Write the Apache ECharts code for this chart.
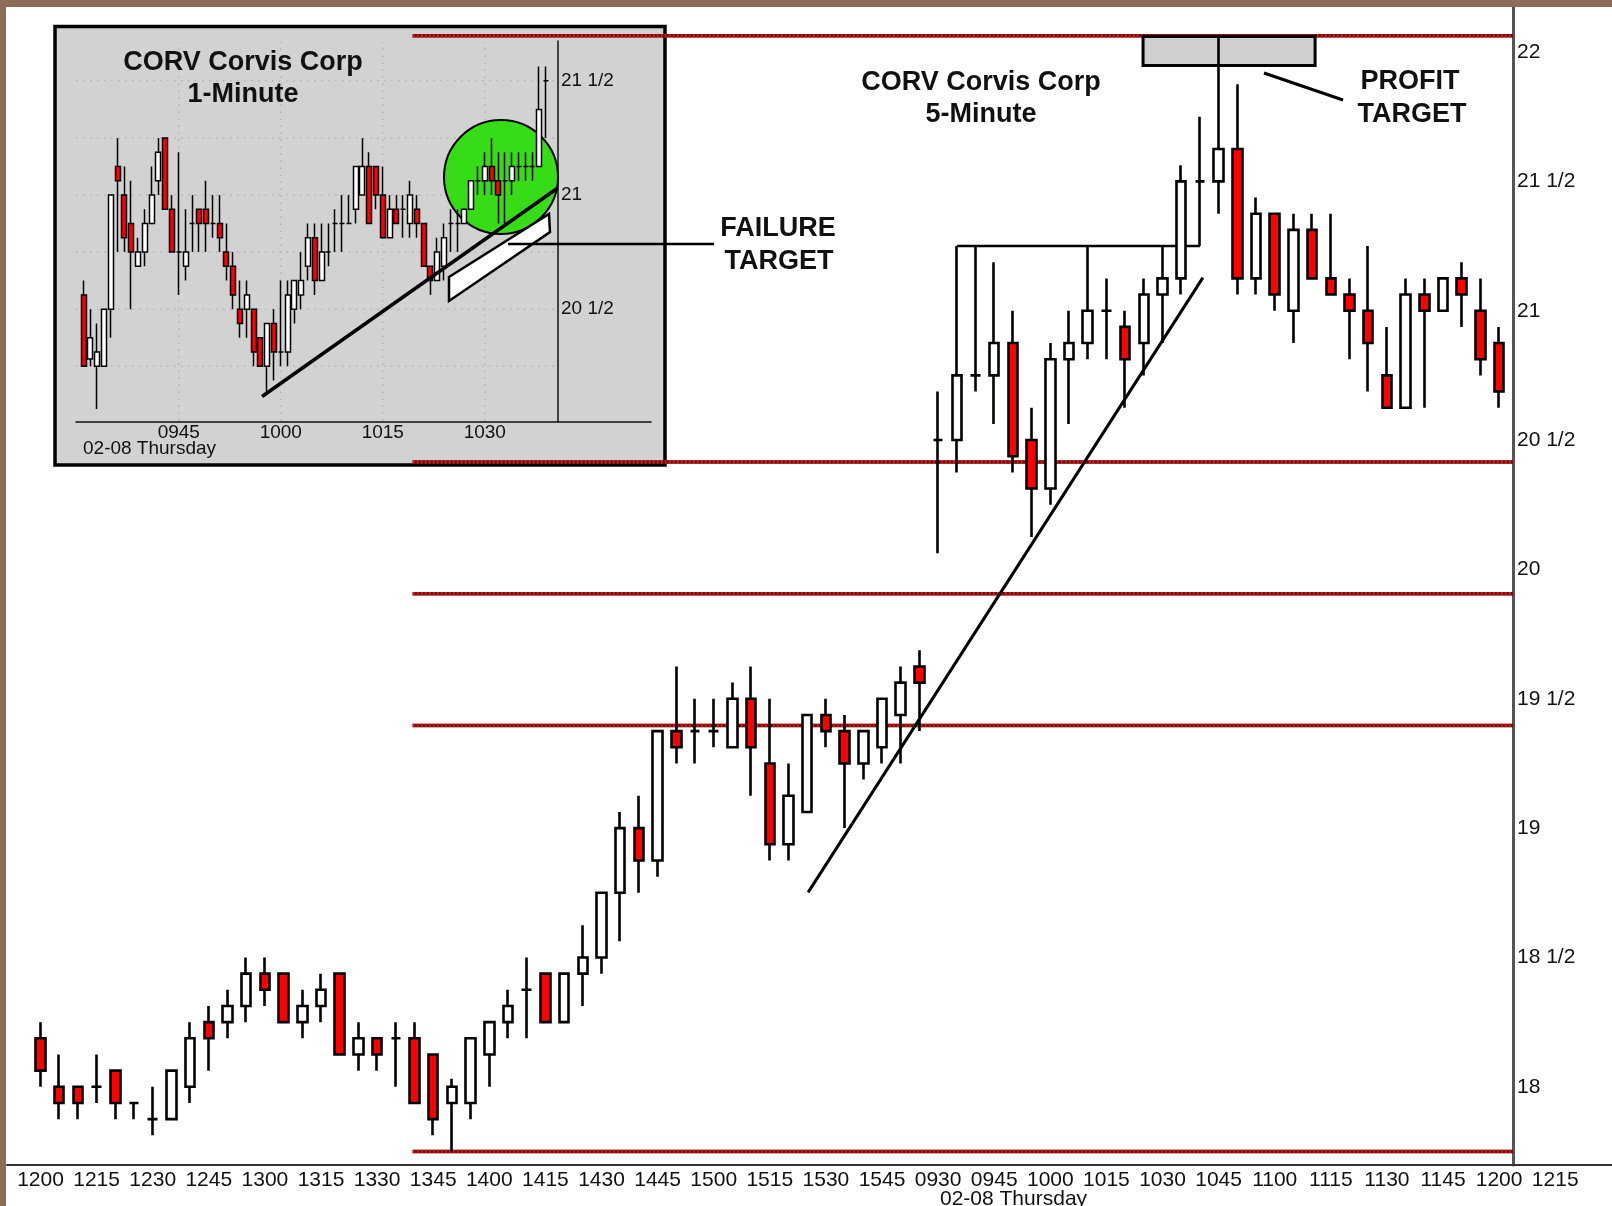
<!DOCTYPE html>
<html>
<head>
<meta charset="utf-8">
<title>CORV Corvis Corp</title>
<script src="https://cdn.jsdelivr.net/npm/echarts@6.0.0/dist/echarts.min.js"></script>
<style>
  html, body { margin: 0; padding: 0; background: #fff; }
  #chart { width: 1612px; height: 1206px; }
</style>
</head>
<body>
<div id="chart"></div>
<script>
// 5-minute bars, prices in sixteenths
const open5 = [18.1875, 18.0, 18.0, 18.0, 18.0625, 17.9375, 17.875, 17.875, 18.0, 18.25,
  18.25, 18.3125, 18.4375, 18.4375, 18.25, 18.3125, 18.4375, 18.125, 18.1875, 18.1875,
  18.1875, 18.125, 17.9375, 17.9375, 18.125, 18.25, 18.375, 18.4375, 18.25, 18.4375,
  18.5, 18.75, 19.0, 18.875, 19.375, 19.375, 19.375, 19.3125, 19.5, 19.25,
  18.9375, 19.0625, 19.4375, 19.375, 19.25, 19.3125, 19.4375, 19.625, 20.5, 20.5,
  20.75, 20.75, 20.875, 20.5, 20.3125, 20.8125, 20.875, 21.0, 20.9375, 20.875,
  21.0625, 21.125, 21.5, 21.5, 21.625, 21.125, 21.375, 21.0, 21.3125, 21.125,
  21.0625, 21.0, 20.75, 20.625, 21.0625, 21.0, 21.125, 21.0, 20.875]
const high5 = [18.25, 18.125, 18.0, 18.125, 18.0625, 17.9375, 18.0, 18.0625, 18.25, 18.3125,
  18.375, 18.5, 18.5, 18.4375, 18.375, 18.4375, 18.4375, 18.25, 18.1875, 18.25,
  18.25, 18.125, 18.03125, 18.1875, 18.25, 18.375, 18.5, 18.4375, 18.4375, 18.625,
  18.75, 19.0625, 19.125, 19.375, 19.625, 19.5, 19.5, 19.5625, 19.625, 19.5,
  19.25, 19.4375, 19.5, 19.4375, 19.375, 19.5, 19.625, 19.6875, 20.6875, 21.25,
  21.25, 21.1875, 21.0, 20.625, 20.875, 21.0, 21.25, 21.125, 21.0, 21.125,
  21.25, 21.5625, 21.75, 22.0625, 21.875, 21.4375, 21.375, 21.375, 21.375, 21.375,
  21.125, 21.25, 20.9375, 21.125, 21.125, 21.125, 21.1875, 21.125, 20.9375]
const low5 = [18.0, 17.875, 17.875, 17.9375, 17.875, 17.875, 17.8125, 17.875, 17.9375, 18.0625,
  18.1875, 18.25, 18.3125, 18.25, 18.1875, 18.25, 18.125, 18.0625, 18.0625, 18.0,
  17.9375, 17.8125, 17.75, 17.875, 18.0, 18.1875, 18.1875, 18.25, 18.25, 18.3125,
  18.4375, 18.5625, 18.75, 18.8125, 19.25, 19.25, 19.3125, 19.3125, 19.125, 18.875,
  18.875, 19.0625, 19.3125, 19.0, 19.1875, 19.25, 19.25, 19.375, 20.0625, 20.375,
  20.6875, 20.5625, 20.375, 20.125, 20.25, 20.5625, 20.8125, 20.8125, 20.625, 20.75,
  20.875, 21.0625, 21.25, 21.375, 21.0625, 21.0625, 21.0, 20.875, 21.125, 21.0625,
  20.8125, 20.6875, 20.625, 20.625, 20.625, 21.0, 20.9375, 20.75, 20.625]
const close5 = [18.0625, 17.9375, 17.9375, 18.0, 17.9375, 17.9375, 17.875, 18.0625, 18.1875, 18.1875,
  18.3125, 18.4375, 18.375, 18.25, 18.3125, 18.375, 18.125, 18.1875, 18.125, 18.1875,
  17.9375, 17.875, 18.0, 18.1875, 18.25, 18.3125, 18.375, 18.25, 18.4375, 18.5,
  18.75, 19.0, 18.875, 19.375, 19.3125, 19.375, 19.375, 19.5, 19.3125, 18.9375,
  19.125, 19.4375, 19.375, 19.25, 19.375, 19.5, 19.5625, 19.5625, 20.5, 20.75,
  20.75, 20.875, 20.4375, 20.3125, 20.8125, 20.875, 21.0, 21.0, 20.8125, 21.0625,
  21.125, 21.5, 21.5, 21.625, 21.125, 21.375, 21.0625, 21.3125, 21.125, 21.0625,
  21.0, 20.875, 20.625, 21.0625, 21.0, 21.125, 21.0625, 20.8125, 20.6875]
// one label every third bar
const timeLabels5 = ['1200', '1215', '1230', '1245', '1300', '1315', '1330', '1345', '1400', '1415',
  '1430', '1445', '1500', '1515', '1530', '1545', '0930', '0945', '1000', '1015',
  '1030', '1045', '1100', '1115', '1130', '1145', '1200', '1215']
const priceTicks5 = [18, 18.5, 19, 19.5, 20, 20.5, 21, 21.5, 22]
// retracement of the 17 3/4 -> 22 1/16 swing: 0, 38.2, 50, 61.8, 100 %
const fibLevels = [17.75, 19.397, 19.906, 20.415, 22.0625]

// 1-minute bars of the inset, 0931 onwards
const open1 = [20.5625, 20.28125, 20.25, 20.25, 20.5, 21.125, 21.0, 20.875, 20.6875, 20.75,
  20.875, 21.0625, 21.25, 20.9375, 20.75, 20.6875, 20.875, 20.9375, 20.9375, 20.875,
  20.875, 20.75, 20.6875, 20.5, 20.5, 20.5, 20.375, 20.25, 20.4375, 20.3125,
  20.3125, 20.5, 20.5625, 20.6875, 20.8125, 20.625, 20.75, 20.875, 20.875, 20.875,
  20.9375, 21.0, 21.125, 21.125, 21.0, 20.8125, 20.9375, 20.9375, 20.875, 20.9375,
  20.875, 20.6875, 20.625, 20.6875, 20.875, 20.875, 20.875, 20.9375, 21.0625, 21.0625,
  21.125, 21.0625, 21.0625, 21.0625, 21.125, 21.125, 21.125, 21.125, 21.5]
const high1 = [20.625, 20.5, 20.4375, 20.5, 21.0, 21.25, 21.125, 21.0625, 20.8125, 20.9375,
  21.125, 21.25, 21.25, 21.0, 21.1875, 20.9375, 21.0, 20.9375, 21.0625, 21.0,
  21.0, 20.875, 20.75, 20.625, 20.625, 20.5, 20.375, 20.4375, 20.5, 20.625,
  20.625, 20.625, 20.75, 20.875, 20.875, 20.875, 20.875, 20.9375, 21.0, 21.0,
  21.125, 21.25, 21.1875, 21.125, 21.125, 21.0, 21.0, 21.0, 21.0625, 21.0,
  20.875, 20.6875, 20.8125, 20.875, 20.9375, 20.9375, 20.9375, 21.0625, 21.125, 21.1875,
  21.25, 21.1875, 21.1875, 21.1875, 21.1875, 21.1875, 21.1875, 21.5625, 21.5625]
const low1 = [20.25, 20.25, 20.0625, 20.25, 20.375, 20.75, 20.75, 20.5, 20.6875, 20.6875,
  20.875, 21.0, 20.9375, 20.75, 20.5625, 20.625, 20.75, 20.75, 20.75, 20.8125,
  20.75, 20.625, 20.5, 20.375, 20.375, 20.25, 20.25, 20.125, 20.1875, 20.25,
  20.25, 20.4375, 20.5, 20.625, 20.5625, 20.625, 20.6875, 20.75, 20.75, 20.875,
  20.875, 21.0, 20.875, 20.9375, 20.8125, 20.8125, 20.875, 20.8125, 20.8125, 20.8125,
  20.6875, 20.5625, 20.625, 20.625, 20.75, 20.75, 20.875, 20.9375, 21.0, 21.0,
  21.0, 20.875, 20.875, 21.0, 21.0625, 21.0625, 21.0625, 21.125, 21.25]
const close1 = [20.25, 20.375, 20.3125, 20.5, 21.0, 21.0625, 20.8125, 20.75, 20.75, 20.875,
  21.0, 21.1875, 20.9375, 20.75, 20.75, 20.75, 20.875, 20.875, 20.875, 20.875,
  20.8125, 20.6875, 20.5625, 20.4375, 20.5625, 20.3125, 20.25, 20.4375, 20.3125, 20.3125,
  20.5625, 20.625, 20.625, 20.8125, 20.625, 20.75, 20.75, 20.875, 20.875, 20.875,
  21.125, 21.125, 20.875, 21.0, 20.8125, 20.9375, 20.875, 20.9375, 21.0, 20.875,
  20.6875, 20.625, 20.75, 20.8125, 20.875, 20.875, 20.9375, 21.0625, 21.0625, 21.125,
  21.0625, 21.0, 21.0625, 21.125, 21.125, 21.125, 21.125, 21.375, 21.5]
const timeLabels1 = ['0945', '1000', '1015', '1030']
const priceTicks1 = [20.5, 21, 21.5]
const gridPrices1 = [20.25, 20.5, 20.75, 21, 21.25, 21.5]

const FONT = '"Liberation Sans", Arial, sans-serif'
const frac = v => Math.floor(v) + (v % 1 ? ' 1/2' : '')

const candleStyle = (bw) => ({
  color: '#ffffff', color0: '#ff0000',
  borderColor: '#000', borderColor0: '#000', borderColorDoji: '#000',
  borderWidth: bw
})

const seg = (name, pts, axis, style, z) => ({
  type: 'line', name, data: pts, xAxisIndex: axis, yAxisIndex: axis,
  symbol: 'none', silent: true, z, lineStyle: style
})

const series = [
  {
    type: 'candlestick', name: '5-Minute', xAxisIndex: 0, yAxisIndex: 0,
    data: open5.map((o, i) => [i, o, close5[i], low5[i], high5[i]]),
    barWidth: 10, itemStyle: candleStyle(2.6), z: 3, silent: true
  },
  {
    type: 'candlestick', name: '1-Minute', xAxisIndex: 1, yAxisIndex: 1,
    data: open1.map((o, i) => [i + 1, o, close1[i], low1[i], high1[i]]),
    barWidth: 5.5, itemStyle: candleStyle(1.5), z: 3, silent: true
  }
]

fibLevels.forEach(v => {
  series.push(seg('fib', [[19.9, v], [78.74, v]], 0, { color: '#3a0000', width: 3.5 }, 1))
  series.push(seg('fib', [[19.9, v], [78.74, v]], 0, { color: '#ff1010', width: 3.5, type: [2, 2] }, 1))
})

// trend line, resistance bracket and the profit target box
series.push(seg('trend5', [[41.05, 18.7515], [62.16, 21.128]], 0, { color: '#000', width: 3 }, 4))
series.push(Object.assign(seg('bracket', [[49, 21.25], [62, 21.25]], 0, { color: '#000', width: 2.5 }, 2), {
  markArea: {
    silent: true, z: 2,
    itemStyle: { color: '#cfcfcf', borderColor: '#000', borderWidth: 3 },
    data: [[{ coord: [58.96, 22.06] }, { coord: [68.16, 21.948] }]]
  }
}))

// inset grid lines and trend line
const dotted = { color: '#b4b4b4', width: 1.5, type: [1.5, 5.5] }
gridPrices1.forEach(v => series.push(seg('g', [[-0.1, v], [70.75, v]], 1, dotted, 1)))
;[15, 30, 45, 60].forEach(x => series.push(seg('g', [[x, 20.01], [x, 21.67]], 1, dotted, 1)))
series.push(seg('trend1', [[27.24, 20.1174], [70.62, 21.0285]], 1, { color: '#000', width: 3.5 }, 4))

const txt = (text, x, y, size, opts) => Object.assign({
  type: 'text', z: 8, silent: true,
  style: { text, x, y, font: 'bold ' + size + 'px ' + FONT, fill: '#111', align: 'center', verticalAlign: 'middle' }
}, opts || {})

const option = {
  animation: false,
  backgroundColor: '#ffffff',
  textStyle: { fontFamily: FONT },
  grid: [
    { left: 7, top: 7, right: 0, bottom: 41, containLabel: false, outerBoundsMode: 'none' },
    { left: 76, top: 41, right: 961, bottom: 784.3, containLabel: false, outerBoundsMode: 'none' }
  ],
  xAxis: [
    {
      gridIndex: 0, type: 'value', min: -1.7914, max: 84.037,
      axisLine: { onZero: false, lineStyle: { color: '#333', width: 2 } },
      axisTick: { show: false }, splitLine: { show: false },
      axisLabel: {
        customValues: timeLabels5.map((_, i) => i * 3),
        formatter: v => timeLabels5[Math.round(v / 3)],
        color: '#111', fontSize: 21, margin: 5, fontFamily: FONT
      }
    },
    {
      gridIndex: 1, type: 'value', min: -0.1176, max: 84.44,
      axisLine: { onZero: false, lineStyle: { color: '#111', width: 1.5 } },
      axisTick: { show: false }, splitLine: { show: false },
      axisLabel: {
        customValues: [15, 30, 45, 60],
        formatter: v => timeLabels1[Math.round(v / 15) - 1],
        color: '#111', fontSize: 19, margin: 2, fontFamily: FONT
      }
    }
  ],
  yAxis: [
    {
      gridIndex: 0, type: 'value', position: 'right', offset: -99, min: 17.6978, max: 22.174,
      axisLine: { show: true, onZero: false, lineStyle: { color: '#555', width: 3 } },
      axisTick: { show: false }, splitLine: { show: false },
      axisLabel: { customValues: priceTicks5, formatter: frac, color: '#111', fontSize: 21, margin: 4, fontFamily: FONT }
    },
    {
      gridIndex: 1, type: 'value', position: 'right', offset: -93, min: 20.007, max: 21.6745,
      axisLine: { show: true, onZero: false, lineStyle: { color: '#111', width: 1.5 } },
      axisTick: { show: false }, splitLine: { show: false },
      axisLabel: { customValues: priceTicks1, formatter: frac, color: '#111', fontSize: 19, margin: 3, fontFamily: FONT }
    }
  ],
  series,
  graphic: [
    // inset panel
    { type: 'rect', z: 0, silent: true, shape: { x: 55, y: 26.5, width: 610, height: 438.5 },
      style: { fill: '#d2d2d2', stroke: '#000', lineWidth: 3.5 } },
    { type: 'circle', z: 2, silent: true, shape: { cx: 501, cy: 177, r: 57 },
      style: { fill: '#36dc16', stroke: '#000', lineWidth: 2 } },
    { type: 'polygon', z: 5, silent: true,
      shape: { points: [[449, 277], [549, 214], [550, 232], [449, 301]] },
      style: { fill: '#fff', stroke: '#000', lineWidth: 2.5 } },
    { type: 'line', z: 6, silent: true, shape: { x1: 508, y1: 244, x2: 714, y2: 244 },
      style: { stroke: '#000', lineWidth: 2.5 } },
    { type: 'line', z: 6, silent: true, shape: { x1: 1264, y1: 73, x2: 1343, y2: 100 },
      style: { stroke: '#000', lineWidth: 3 } },
    txt('CORV Corvis Corp', 243, 63, 27),
    txt('1-Minute', 243, 95, 27),
    txt('CORV Corvis Corp', 981, 83, 27),
    txt('5-Minute', 981, 115, 27),
    txt('PROFIT', 1410, 82, 27),
    txt('TARGET', 1412, 115, 27),
    txt('FAILURE', 778, 229, 27),
    txt('TARGET', 779, 262, 27),
    { type: 'text', z: 8, silent: true,
      style: { text: '02-08 Thursday', x: 83, y: 449, font: '19px ' + FONT, fill: '#111', align: 'left', verticalAlign: 'middle' } },
    { type: 'text', z: 8, silent: true,
      style: { text: '02-08 Thursday', x: 940, y: 1199, font: '21px ' + FONT, fill: '#111', align: 'left', verticalAlign: 'middle' } },
    // brown frame
    { type: 'rect', z: 10, silent: true, shape: { x: 0, y: 0, width: 1612, height: 7 }, style: { fill: '#8d6c58' } },
    { type: 'rect', z: 10, silent: true, shape: { x: 0, y: 0, width: 6, height: 1206 }, style: { fill: '#8d6c58' } }
  ]
}

const chart = echarts.init(document.getElementById('chart'))
chart.setOption(option)
</script>
</body>
</html>
